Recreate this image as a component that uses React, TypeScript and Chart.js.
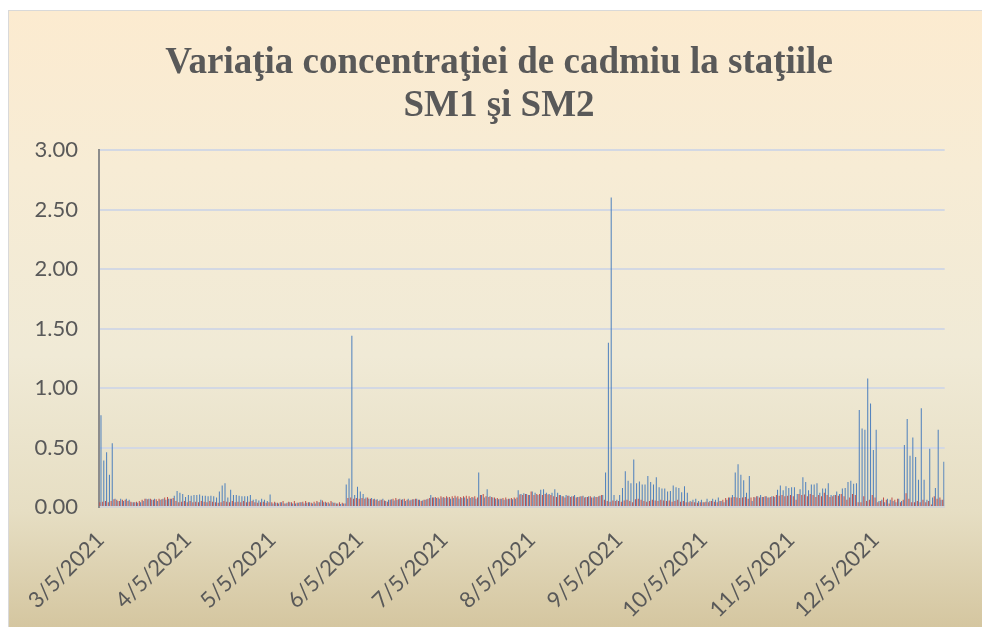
import React, { useEffect, useRef } from "react";
import { Chart, registerables } from "chart.js";

Chart.register(...registerables);

const titleLines = ["Variaţia concentraţiei de cadmiu la staţiile", "SM1 şi SM2"];
const firstDay = [2021, 3, 5]; // year, month, day
const monthTicks = [
  "3/5/2021", "4/5/2021", "5/5/2021", "6/5/2021", "7/5/2021",
  "8/5/2021", "9/5/2021", "10/5/2021", "11/5/2021", "12/5/2021",
];
const yMin = 0;
const yMax = 3;
const yStep = 0.5;

// SM1 (blue), daily values from 3/5/2021 to 12/29/2021
const sm1 = [
  // Mar
  0.77, 0.39, 0.46, 0.27, 0.535, 0.07, 0.05, 0.07, 0.05, 0.07, 0.06, 0.04, 0.04, 0.035, 0.04, 0.05, 0.07, 0.07, 0.06, 0.07, 0.05, 0.06, 0.07, 0.06, 0.07, 0.07, 0.095,
  // Apr
  0.135, 0.12, 0.11, 0.085, 0.1, 0.095, 0.1, 0.1, 0.105, 0.095, 0.095, 0.09, 0.095, 0.09, 0.08, 0.13, 0.18, 0.2, 0.08, 0.145, 0.1, 0.1, 0.095, 0.09, 0.09, 0.09, 0.1, 0.06, 0.065, 0.055,
  // May
  0.07, 0.06, 0.05, 0.105, 0.03, 0.035, 0.03, 0.04, 0.03, 0.035, 0.04, 0.03, 0.03, 0.035, 0.04, 0.03, 0.035, 0.04, 0.03, 0.03, 0.04, 0.06, 0.04, 0.035, 0.03, 0.04, 0.035, 0.03, 0.025, 0.03, 0.19,
  // Jun
  0.24, 1.44, 0.1, 0.17, 0.13, 0.11, 0.08, 0.07, 0.075, 0.07, 0.065, 0.06, 0.07, 0.05, 0.06, 0.065, 0.055, 0.06, 0.07, 0.065, 0.05, 0.07, 0.06, 0.065, 0.07, 0.06, 0.055, 0.06, 0.07, 0.1,
  // Jul
  0.08, 0.075, 0.07, 0.08, 0.075, 0.08, 0.07, 0.075, 0.08, 0.07, 0.075, 0.08, 0.07, 0.075, 0.08, 0.07, 0.29, 0.1, 0.08, 0.15, 0.09, 0.08, 0.07, 0.065, 0.07, 0.06, 0.065, 0.07, 0.065, 0.07, 0.14,
  // Aug
  0.11, 0.115, 0.11, 0.1, 0.13, 0.12, 0.1, 0.145, 0.15, 0.12, 0.11, 0.12, 0.15, 0.12, 0.1, 0.09, 0.1, 0.095, 0.09, 0.1, 0.085, 0.09, 0.095, 0.085, 0.09, 0.08, 0.09, 0.085, 0.095, 0.1, 0.29,
  // Sep
  1.38, 2.6, 0.1, 0.06, 0.1, 0.16, 0.3, 0.22, 0.2, 0.4, 0.2, 0.215, 0.19, 0.19, 0.26, 0.21, 0.19, 0.25, 0.165, 0.155, 0.155, 0.13, 0.135, 0.18, 0.165, 0.16, 0.125, 0.175, 0.12, 0.05,
  // Oct
  0.06, 0.07, 0.05, 0.06, 0.04, 0.07, 0.05, 0.07, 0.06, 0.08, 0.05, 0.04, 0.06, 0.08, 0.1, 0.29, 0.36, 0.27, 0.225, 0.12, 0.26, 0.05, 0.08, 0.09, 0.1, 0.085, 0.09, 0.08, 0.09, 0.085, 0.145,
  // Nov
  0.18, 0.14, 0.175, 0.16, 0.165, 0.165, 0.11, 0.15, 0.25, 0.21, 0.14, 0.19, 0.19, 0.2, 0.12, 0.155, 0.155, 0.2, 0.1, 0.1, 0.13, 0.11, 0.155, 0.16, 0.21, 0.22, 0.195, 0.2, 0.815, 0.66,
  // Dec
  0.65, 1.08, 0.87, 0.48, 0.65, 0.05, 0.06, 0.04, 0.07, 0.06, 0.05, 0.04, 0.07, 0.05, 0.52, 0.74, 0.43, 0.585, 0.42, 0.23, 0.83, 0.23, 0.06, 0.49, 0.08, 0.16, 0.65, 0.06, 0.38,
];

// SM2 (red)
const sm2 = [
  // Mar
  0.04, 0.045, 0.05, 0.04, 0.05, 0.065, 0.06, 0.05, 0.06, 0.06, 0.05, 0.045, 0.04, 0.045, 0.05, 0.06, 0.07, 0.065, 0.07, 0.06, 0.065, 0.07, 0.065, 0.08, 0.085, 0.07, 0.075,
  // Apr
  0.05, 0.04, 0.045, 0.05, 0.04, 0.05, 0.04, 0.045, 0.04, 0.05, 0.045, 0.04, 0.05, 0.045, 0.04, 0.035, 0.04, 0.05, 0.045, 0.04, 0.05, 0.04, 0.045, 0.04, 0.05, 0.04, 0.045, 0.05, 0.04, 0.035,
  // May
  0.04, 0.045, 0.035, 0.04, 0.04, 0.045, 0.035, 0.04, 0.05, 0.03, 0.045, 0.04, 0.05, 0.035, 0.04, 0.045, 0.05, 0.04, 0.035, 0.045, 0.05, 0.04, 0.055, 0.045, 0.04, 0.05, 0.035, 0.03, 0.04, 0.035, 0.03,
  // Jun
  0.075, 0.08, 0.07, 0.075, 0.07, 0.075, 0.07, 0.08, 0.07, 0.065, 0.06, 0.05, 0.06, 0.055, 0.045, 0.06, 0.07, 0.075, 0.065, 0.06, 0.07, 0.06, 0.055, 0.065, 0.07, 0.06, 0.05, 0.06, 0.065, 0.075,
  // Jul
  0.08, 0.085, 0.08, 0.09, 0.085, 0.09, 0.085, 0.09, 0.095, 0.09, 0.085, 0.09, 0.095, 0.09, 0.085, 0.09, 0.08, 0.1, 0.11, 0.09, 0.085, 0.085, 0.08, 0.075, 0.07, 0.075, 0.08, 0.07, 0.075, 0.08, 0.08,
  // Aug
  0.105, 0.1, 0.11, 0.1, 0.13, 0.1, 0.11, 0.11, 0.1, 0.11, 0.105, 0.1, 0.09, 0.085, 0.1, 0.09, 0.08, 0.095, 0.085, 0.09, 0.08, 0.085, 0.09, 0.08, 0.085, 0.09, 0.08, 0.085, 0.09, 0.1, 0.06,
  // Sep
  0.05, 0.045, 0.055, 0.05, 0.05, 0.045, 0.055, 0.06, 0.05, 0.04, 0.065, 0.07, 0.06, 0.05, 0.045, 0.05, 0.06, 0.055, 0.05, 0.06, 0.055, 0.05, 0.055, 0.045, 0.05, 0.06, 0.045, 0.05, 0.04, 0.04,
  // Oct
  0.045, 0.04, 0.035, 0.04, 0.04, 0.045, 0.04, 0.05, 0.045, 0.04, 0.05, 0.06, 0.075, 0.08, 0.08, 0.085, 0.08, 0.075, 0.08, 0.085, 0.07, 0.08, 0.085, 0.09, 0.08, 0.085, 0.09, 0.08, 0.085, 0.09, 0.1,
  // Nov
  0.095, 0.1, 0.09, 0.095, 0.1, 0.09, 0.06, 0.11, 0.1, 0.105, 0.09, 0.11, 0.1, 0.085, 0.1, 0.09, 0.12, 0.1, 0.085, 0.09, 0.1, 0.095, 0.11, 0.09, 0.06, 0.08, 0.11, 0.1, 0.04, 0.04,
  // Dec
  0.09, 0.05, 0.06, 0.1, 0.08, 0.04, 0.05, 0.08, 0.06, 0.03, 0.08, 0.06, 0.07, 0.04, 0.06, 0.115, 0.07, 0.04, 0.04, 0.05, 0.04, 0.06, 0.04, 0.05, 0.02, 0.09, 0.07, 0.08, 0.06,
];

function buildDayLabels(count: number): string[] {
  const labels: string[] = [];
  const d = new Date(Date.UTC(firstDay[0], firstDay[1] - 1, firstDay[2]));
  for (let i = 0; i < count; i++) {
    labels.push(`${d.getUTCMonth() + 1}/${d.getUTCDate()}/${d.getUTCFullYear()}`);
    d.setUTCDate(d.getUTCDate() + 1);
  }
  return labels;
}

const titlePlugin = {
  id: "customTitle",
  afterDraw(chart: any) {
    const ctx = chart.ctx;
    ctx.save();
    ctx.fillStyle = "#595959";
    ctx.font = 'bold 37px "Liberation Serif", "Times New Roman", serif';
    ctx.textAlign = "center";
    ctx.textBaseline = "alphabetic";
    ctx.fillText(titleLines[0], 499, 73);
    ctx.fillText(titleLines[1], 499, 116);
    ctx.restore();
  },
};

export default function App() {
  const canvasRef = useRef<HTMLCanvasElement | null>(null);

  useEffect(() => {
    document.body.style.margin = "0";
    const canvas = canvasRef.current;
    if (!canvas) return;
    const labels = buildDayLabels(sm1.length);
    const chart = new Chart(canvas, {
      type: "bar",
      data: {
        labels,
        datasets: [
          {
            label: "SM2",
            data: sm2,
            backgroundColor: "#C0504D",
            borderWidth: 0,
            barPercentage: 0.9,
            categoryPercentage: 0.8,
          },
          {
            label: "SM1",
            data: sm1,
            backgroundColor: "#4F81BD",
            borderWidth: 0,
            barPercentage: 0.9,
            categoryPercentage: 0.8,
          },
        ],
      },
      options: {
        responsive: false,
        animation: false,
        devicePixelRatio: 1,
        layout: { padding: { left: 0, right: 36, top: 150, bottom: 0 } },
        plugins: {
          legend: { display: false },
          title: { display: false },
          tooltip: { enabled: false },
        },
        scales: {
          x: {
            grid: { display: false, drawTicks: false },
            border: { display: true, color: "#d4d4d4", width: 2 },
            ticks: {
              autoSkip: false,
              maxRotation: 45,
              minRotation: 45,
              padding: 20,
              color: "#595959",
              font: { family: "Lato", size: 22 },
              callback: (_v: any, i: number) =>
                monthTicks.includes(labels[i]) ? labels[i] : "",
            },
            afterFit: (scale: any) => {
              scale.height = 120;
            },
          },
          y: {
            min: yMin,
            max: yMax,
            grid: { color: "#d3d8e3", lineWidth: 2, drawTicks: false },
            border: { display: true, color: "#8c8c8c", width: 2 },
            ticks: {
              stepSize: yStep,
              padding: 21,
              color: "#595959",
              font: { family: "Lato", size: 22 },
              callback: (v: any) => Number(v).toFixed(2),
            },
            afterFit: (scale: any) => {
              scale.width = 99;
            },
          },
        },
      },
      plugins: [titlePlugin],
    });
    return () => chart.destroy();
  }, []);

  return (
    <div
      style={{
        position: "absolute",
        left: 0,
        top: 0,
        width: 982,
        height: 627,
        background: "#ffffff",
        overflow: "hidden",
      }}
    >
      <div
        style={{
          position: "absolute",
          left: 8,
          top: 10,
          width: 982,
          height: 627,
          boxSizing: "border-box",
          borderLeft: "1px solid #d9d9d9",
          borderTop: "1px solid #d9d9d9",
          background:
            "linear-gradient(180deg, #fcebd0 0%, #f7ecd5 25%, #f0ead6 55%, #e6dec3 80%, #d3c49d 100%)",
        }}
      />
      <canvas
        ref={canvasRef}
        width={982}
        height={627}
        style={{ position: "absolute", left: 0, top: 0 }}
      />
    </div>
  );
}
